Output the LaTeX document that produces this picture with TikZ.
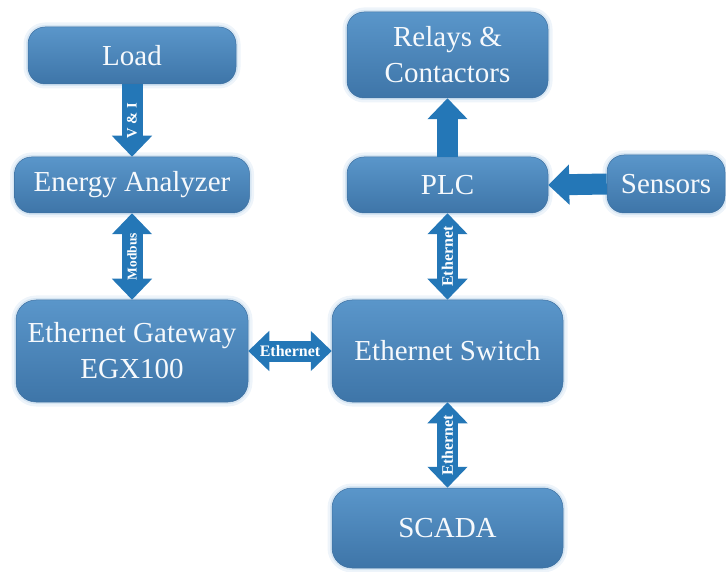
\documentclass[tikz,border=0pt]{standalone}
\usepackage{fontspec}
\setmainfont{Liberation Serif}
\usetikzlibrary{arrows.meta}
\definecolor{boxtop}{RGB}{90,150,202}
\definecolor{boxbot}{RGB}{62,117,168}
\definecolor{boxedge}{RGB}{62,112,160}
\definecolor{glow}{RGB}{160,196,228}
\definecolor{arrcol}{RGB}{36,119,183}
\definecolor{txt}{RGB}{246,249,252}
\begin{document}
\begin{tikzpicture}[x=1pt,y=-1pt,
  blk/.style={rectangle, rounded corners=17pt, inner sep=0pt, align=center,
    top color=boxtop, bottom color=boxbot, draw=boxedge, line width=0.5pt,
    preaction={draw=glow, draw opacity=0.18, line width=9pt},
    preaction={draw=glow, draw opacity=0.3, line width=4pt},
    text=txt, font=\fontsize{29}{36}\selectfont},
  flow/.style={draw=arrcol, line width=21pt,
    -{Triangle[width=39pt,length=21pt]}},
  flow2/.style={draw=arrcol, line width=21pt,
    {Triangle[width=39pt,length=21pt]}-{Triangle[width=39pt,length=21pt]}},
  lbl/.style={text=white, inner sep=0pt, font=\fontsize{13.5}{13.5}\selectfont\bfseries},
  elbl/.style={text=white, inner sep=0pt, font=\fontsize{16}{16}\selectfont\bfseries}]
\useasboundingbox (0,0) rectangle (726,572);

\node[blk, minimum width=208pt, minimum height=57pt] (load) at (132,55.5) {Load};
\node[blk, minimum width=235pt, minimum height=56pt] (ea) at (132,185) {Energy Analyzer};
\node[blk, minimum width=232pt, minimum height=102pt, rounded corners=20pt] (gw) at (132,351) {Ethernet Gateway\\EGX100};
\node[blk, minimum width=231pt, minimum height=102pt, rounded corners=20pt] (sw) at (447.5,351) {Ethernet Switch};
\node[blk, minimum width=201pt, minimum height=56pt] (plc) at (447.5,185) {PLC};
\node[blk, minimum width=201pt, minimum height=86pt] (rel) at (447.5,55) {Relays \&\\Contactors};
\node[blk, minimum width=118pt, minimum height=58pt] (sen) at (666,184) {Sensors};
\node[blk, minimum width=231pt, minimum height=80pt, rounded corners=20pt] (scada) at (447.5,528) {SCADA};

\draw[flow] (load.south) -- (ea.north) node[midway, lbl, rotate=90, font=\fontsize{14.5}{14.5}\selectfont\bfseries] {V \& I};
\draw[flow2] (ea.south) -- (gw.north) node[midway, lbl, rotate=90] {Modbus};
\draw[flow2] (gw.east) -- (sw.west) node[midway, elbl] {Ethernet};
\draw[flow2] (plc.south) -- (sw.north) node[midway, elbl, rotate=90] {Ethernet};
\draw[flow2] (sw.south) -- (scada.north) node[midway, elbl, rotate=90] {Ethernet};
\draw[flow] (plc.north) -- (rel.south);
\draw[flow] (sen.west) -- (plc.east);
\end{tikzpicture}
\end{document}
